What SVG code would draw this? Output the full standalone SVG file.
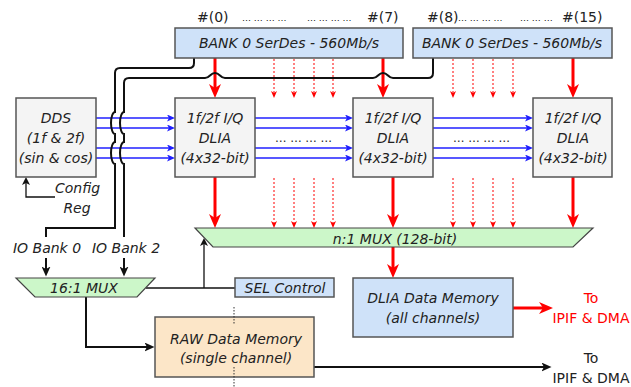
<svg xmlns="http://www.w3.org/2000/svg" width="631" height="387" viewBox="0 0 631 387">
<style>
text{font-family:"DejaVu Sans","Liberation Sans",sans-serif;font-size:14px;fill:#222}
.it{font-style:italic}
.c{text-anchor:middle}
.to{font-size:14px}
.bank{fill:#cfe2f9;stroke:#555;stroke-width:1.5}
.blk{fill:#f4f4f4;stroke:#555;stroke-width:1.5}
.mux{fill:#ccf7c9;stroke:#444;stroke-width:1.2}
.raw{fill:#fce6c8;stroke:#555;stroke-width:1.5}
.rt{stroke:#f00;stroke-width:3;fill:none}
.rd{stroke:#f00;stroke-width:1;stroke-dasharray:2,2;fill:none}
.bl{stroke:#2020ff;stroke-width:1.5;fill:none}
.k{stroke:#111;stroke-width:2;fill:none}
.k1{stroke:#111;stroke-width:1.3;fill:none}
.dots{font-size:9px}
.dots2{font-size:11.5px}
</style>
<defs>
<marker id="ra" markerUnits="userSpaceOnUse" viewBox="0 0 14 12" markerWidth="14" markerHeight="12" refX="4" refY="6" orient="auto"><path d="M0,0 L14,6 L0,12 L4,6 z" fill="#f00"/></marker>
<marker id="rs" markerUnits="userSpaceOnUse" viewBox="0 0 7 6" markerWidth="7" markerHeight="6" refX="2" refY="3" orient="auto"><path d="M0,0 L7,3 L0,6 L2,3 z" fill="#f00"/></marker>
<marker id="ba" markerUnits="userSpaceOnUse" viewBox="0 0 8 7" markerWidth="8" markerHeight="7" refX="2" refY="3.5" orient="auto"><path d="M0,0 L8,3.5 L0,7 L2,3.5 z" fill="#2020ff"/></marker>
<marker id="ka" markerUnits="userSpaceOnUse" viewBox="0 0 10 9" markerWidth="10" markerHeight="9" refX="2.5" refY="4.5" orient="auto"><path d="M0,0 L10,4.5 L0,9 L2.5,4.5 z" fill="#111"/></marker>
<marker id="ks" markerUnits="userSpaceOnUse" viewBox="0 0 8 8" markerWidth="8" markerHeight="8" refX="2" refY="4" orient="auto"><path d="M0,0 L8,4 L0,8 L2,4 z" fill="#111"/></marker>
</defs>
<rect width="631" height="387" fill="#fff"/>

<g id="top-labels">
<text x="197" y="22">#(0)</text>
<text x="242" y="21" class="dots">… … … …</text>
<text x="307" y="21" class="dots">… … … …</text>
<text x="367" y="22">#(7)</text>
<text x="427" y="22">#(8)</text>
<text x="458" y="21" class="dots">… … … …</text>
<text x="520" y="21" class="dots">… … …</text>
<text x="562" y="22">#(15)</text>
</g>

<g id="connectors">
<!-- red thick -->
<path class="rt" d="M215,58 V88" marker-end="url(#ra)"/>
<path class="rt" d="M383,58 V88" marker-end="url(#ra)"/>
<path class="rt" d="M573,58 V88" marker-end="url(#ra)"/>
<path class="rt" d="M215,177 V218" marker-end="url(#ra)"/>
<path class="rt" d="M393,177 V218" marker-end="url(#ra)"/>
<path class="rt" d="M573,177 V218" marker-end="url(#ra)"/>
<path class="rt" d="M393,247 V268" marker-end="url(#ra)"/>
<path class="rt" d="M513,308 H543" marker-end="url(#ra)"/>
<!-- red dotted -->
<path class="rd" d="M274,59 V93" marker-end="url(#rs)"/>
<path class="rd" d="M294,59 V93" marker-end="url(#rs)"/>
<path class="rd" d="M314,59 V93" marker-end="url(#rs)"/>
<path class="rd" d="M333,59 V93" marker-end="url(#rs)"/>
<path class="rd" d="M453,59 V93" marker-end="url(#rs)"/>
<path class="rd" d="M473,59 V93" marker-end="url(#rs)"/>
<path class="rd" d="M493,59 V93" marker-end="url(#rs)"/>
<path class="rd" d="M513,59 V93" marker-end="url(#rs)"/>
<path class="rd" d="M274,178 V223" marker-end="url(#rs)"/>
<path class="rd" d="M294,178 V223" marker-end="url(#rs)"/>
<path class="rd" d="M314,178 V223" marker-end="url(#rs)"/>
<path class="rd" d="M333,178 V223" marker-end="url(#rs)"/>
<path class="rd" d="M453,178 V223" marker-end="url(#rs)"/>
<path class="rd" d="M473,178 V223" marker-end="url(#rs)"/>
<path class="rd" d="M493,178 V223" marker-end="url(#rs)"/>
<path class="rd" d="M513,178 V223" marker-end="url(#rs)"/>
<!-- blue -->
<path class="bl" d="M96,118 H169" marker-end="url(#ba)"/>
<path class="bl" d="M96,128 H169" marker-end="url(#ba)"/>
<path class="bl" d="M96,148 H169" marker-end="url(#ba)"/>
<path class="bl" d="M96,158 H169" marker-end="url(#ba)"/>
<path class="bl" d="M255,118 H347" marker-end="url(#ba)"/>
<path class="bl" d="M255,128 H347" marker-end="url(#ba)"/>
<path class="bl" d="M255,148 H347" marker-end="url(#ba)"/>
<path class="bl" d="M255,158 H347" marker-end="url(#ba)"/>
<path class="bl" d="M433,118 H527" marker-end="url(#ba)"/>
<path class="bl" d="M433,128 H527" marker-end="url(#ba)"/>
<path class="bl" d="M433,148 H527" marker-end="url(#ba)"/>
<path class="bl" d="M433,158 H527" marker-end="url(#ba)"/>
<!-- black IO bank lines -->
<path class="k" d="M194,58 V63 Q194,68 189,68 H120 Q115,68 115,73 V112 A4,11 0 0 0 115,134 V142 A4,11 0 0 0 115,164 V228 H46 V237"/>
<path class="k" d="M433,58 V73 Q433,78 428,78 H393 C388,78 388,73 383,73 C378,73 378,78 373,78 H225 C220,78 220,73 215,73 C210,73 210,78 205,78 H129 Q124,78 124,83 V112 A4,11 0 0 0 124,134 V142 A4,11 0 0 0 124,164 V237"/>
<path class="k" d="M46,258 V269" marker-end="url(#ka)"/>
<path class="k" d="M124,258 V269" marker-end="url(#ka)"/>
<!-- config -->
<path class="k1" d="M55,197 H26 V183" marker-end="url(#ks)"/>
<!-- SEL control -->
<path class="k1" d="M146,288 H235"/>
<path class="k1" d="M204,288 V244" marker-end="url(#ks)"/>
<!-- 16:1 mux output -->
<path class="k" d="M86,297 V347 H147" marker-end="url(#ka)"/>
<!-- RAW output -->
<path class="k" d="M314,367 H544" marker-end="url(#ka)"/>
</g>

<g id="bank0">
<rect class="bank" x="175" y="28" width="228" height="30"/>
<text class="it c" x="289" y="48">BANK 0 SerDes - 560Mb/s</text>
</g>
<g id="bank1">
<rect class="bank" x="413" y="28" width="199" height="30"/>
<text class="it c" x="512" y="48">BANK 0 SerDes - 560Mb/s</text>
</g>

<g id="dds">
<rect class="blk" x="16" y="98" width="80" height="79"/>
<text class="it c" x="56" y="123">DDS</text>
<text class="it c" x="56" y="143">(1f &amp; 2f)</text>
<text class="it c" x="56" y="163">(sin &amp; cos)</text>
</g>
<g id="config-label">
<text class="it" x="55" y="193">Config</text>
<text class="it c" x="77" y="213">Reg</text>
</g>

<g id="dlia1">
<rect class="blk" x="175" y="98" width="80" height="79"/>
<text class="it c" x="215" y="123">1f/2f I/Q</text>
<text class="it c" x="215" y="143">DLIA</text>
<text class="it c" x="215" y="163">(4x32-bit)</text>
</g>
<g id="dlia2">
<rect class="blk" x="353" y="98" width="80" height="79"/>
<text class="it c" x="393" y="123">1f/2f I/Q</text>
<text class="it c" x="393" y="143">DLIA</text>
<text class="it c" x="393" y="163">(4x32-bit)</text>
</g>
<g id="dlia3">
<rect class="blk" x="533" y="98" width="79" height="79"/>
<text class="it c" x="573" y="123">1f/2f I/Q</text>
<text class="it c" x="573" y="143">DLIA</text>
<text class="it c" x="573" y="163">(4x32-bit)</text>
</g>
<g id="mid-dots">
<text class="dots2" x="275" y="142">… … … …</text>
<text class="dots2" x="453" y="142">… … … …</text>
</g>

<g id="nmux">
<polygon class="mux" points="195,228 593,228 573,247 213,247"/>
<text class="it c" x="395" y="244">n:1 MUX (128-bit)</text>
</g>

<g id="io-labels">
<text class="it c" x="47" y="253">IO Bank 0</text>
<text class="it c" x="126" y="253">IO Bank 2</text>
</g>

<g id="mux16">
<polygon class="mux" points="16,278 155,278 137,297 35,297"/>
<text class="it c" x="84" y="293">16:1 MUX</text>
</g>

<g id="sel">
<rect class="bank" x="235" y="278" width="99" height="19"/>
<text class="it c" x="285" y="293">SEL Control</text>
</g>

<g id="dlia-mem">
<rect class="bank" x="353" y="278" width="160" height="59"/>
<text class="it c" x="433" y="303">DLIA Data Memory</text>
<text class="it c" x="433" y="323">(all channels)</text>
</g>
<g id="out-red">
<text class="c to" x="591" y="303" style="fill:#f00">To</text>
<text class="c to" x="591" y="323" style="fill:#f00">IPIF &amp; DMA</text>
</g>

<g id="raw-mem">
<rect class="raw" x="155" y="317" width="159" height="60"/>
<text class="it c" x="236" y="344">RAW Data Memory</text>
<text class="it c" x="236" y="363">(single channel)</text>
<path d="M234,307 V325 M234,367 V387" stroke="#333" stroke-width="1" stroke-dasharray="1.5,1.5"/>
</g>
<g id="out-black">
<text class="c to" x="591" y="363">To</text>
<text class="c to" x="591" y="383">IPIF &amp; DMA</text>
</g>
</svg>
